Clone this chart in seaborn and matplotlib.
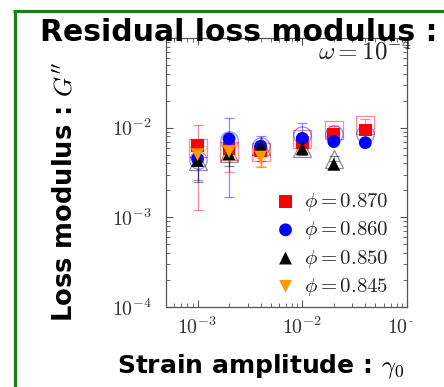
import numpy as np
import matplotlib
matplotlib.use("Agg")
import matplotlib.pyplot as plt
from matplotlib.lines import Line2D
from matplotlib.transforms import Bbox, TransformedBbox
import seaborn as sns

# Strain amplitudes probed
strain = [1e-3, 2e-3, 4e-3, 1e-2, 2e-2, 4e-2]

# phi = 0.870
g870 = [6.3e-3, 5.9e-3, 5.5e-3, 6.8e-3, 8.5e-3, 9.4e-3]
g870_mean = [6.0e-3, 5.5e-3, 5.3e-3, 7.5e-3, 9.3e-3, 1.06e-2]
g870_std = [4.8e-3, 2.3e-3, 1.7e-3, 1.0e-3, 1.2e-3, 2.0e-3]

# phi = 0.860
g860 = [4.5e-3, 7.5e-3, 6.2e-3, 7.6e-3, 7.0e-3, 6.8e-3]
g860_mean = [4.4e-3, 7.3e-3, 6.2e-3, 8.3e-3, 8.5e-3, 8.4e-3]
g860_std = [1.8e-3, 5.6e-3, 1.9e-3, 3.0e-3, 1.5e-3, 1.0e-3]

# phi = 0.850
g850 = [4.3e-3, 5.1e-3, 6.1e-3, 5.8e-3, 3.9e-3]
g850_mean = [4.3e-3, 5.2e-3, 6.3e-3, 6.0e-3, 4.5e-3]
g850_std = [1.8e-3, 1.5e-3, 0.8e-3, 1.0e-3, 0.3e-3]

# phi = 0.845
g845 = [5.0e-3, 5.4e-3, 4.7e-3]
g845_mean = [4.9e-3, 5.3e-3, 4.8e-3]
g845_std = [0.6e-3, 0.6e-3, 1.1e-3]

labels = [r"$\phi = 0.870$", r"$\phi = 0.860$", r"$\phi = 0.850$", r"$\phi = 0.845$"]
colors = ["#ff0000", "#0000ff", "#000000", "#ff9900"]
markers = ["s", "o", "^", "v"]

series = [
    (g870, g870_mean, g870_std),
    (g860, g860_mean, g860_std),
    (g850, g850_mean, g850_std),
    (g845, g845_mean, g845_std),
]

sns.set_style("ticks")
plt.rcParams["mathtext.fontset"] = "cm"
plt.rcParams["font.family"] = ["DejaVu Sans"]

W, H = 444, 387
fig = plt.figure(figsize=(W / 100, H / 100), dpi=100)
fig.patch.set_facecolor("white")

def fx(px):
    return px / W

def fy(py):
    return 1 - py / H

ax = fig.add_axes([fx(166), fy(307), fx(407) - fx(166), fy(38) - fy(307)])
ax.set_xscale("log")
ax.set_yscale("log")

for (g, gm, gs), lab, col, mk in zip(series, labels, colors, markers):
    n = len(g)
    xs = strain[:n]
    # averaged values: open markers with error bars
    ax.errorbar(xs, gm, yerr=gs, fmt=mk, mfc="none", mec=col, ms=12.5,
                mew=0.9, ecolor=col, elinewidth=0.9, capsize=3.5, capthick=0.9,
                alpha=0.45, zorder=2)
    # representative values: filled markers
    sns.scatterplot(x=xs, y=g, marker=mk, color=col, s=85, edgecolor="none",
                    linewidth=0, label=lab, ax=ax, zorder=3)

ax.set_xlim(5e-4, 1e-1)
ax.set_ylim(1e-4, 1e-1)
ax.set_xticks([1e-3, 1e-2, 1e-1])
ax.set_yticks([1e-4, 1e-3, 1e-2])
ax.set_xticklabels([r"$10^{-3}$", r"$10^{-2}$", r"$10^{-1}$"])
ax.set_yticklabels([r"$10^{-4}$", r"$10^{-3}$", r"$10^{-2}$"])
ax.tick_params(which="both", direction="in", top=True, right=True,
               color="#555555", labelsize=14.4, labelcolor="#333333")
ax.tick_params(which="major", length=5, width=0.8)
ax.tick_params(which="minor", length=3, width=0.6)
ax.tick_params(axis="y", pad=10)
ax.tick_params(axis="x", pad=7)
for sp in ax.spines.values():
    sp.set_color("#555555")
    sp.set_linewidth(0.9)
ax.set_xlabel("")
ax.set_ylabel("")

leg = ax.legend(loc="lower right", bbox_to_anchor=(0.985, -0.02), frameon=False,
                fontsize=15, handlelength=0.8, handletextpad=0.5,
                labelspacing=0.3, borderaxespad=0.3, markerscale=1.0)

# the image region ends just past the right spine
clip = TransformedBbox(Bbox([[0, 0], [fx(413), 1]]), fig.transFigure)
for lbl in ax.get_xticklabels():
    lbl.set_clip_box(clip)
    lbl.set_clip_on(True)

fig.text(fx(318), fy(59), r"$\omega = 10^{-4}$", fontsize=18, ha="left",
         va="baseline", color="#222222")

fig.text(fx(40), fy(41), "Residual loss modulus :", fontsize=21.5,
         fontweight="bold", ha="left", va="baseline", color="black")
fig.text(fx(117), fy(372), r"Strain amplitude : $\gamma_0$", fontsize=18,
         fontweight="bold", ha="left", va="baseline", color="black")
fig.text(fx(72), fy(322), r"Loss modulus : $G''$", fontsize=18.5,
         fontweight="bold", ha="left", va="baseline", rotation=90,
         rotation_mode="anchor", color="black")

# slide frame
green = "#1e7d1e"
fig.add_artist(Line2D([fx(14.5), fx(14.5)], [fy(10.5), 0], color=green,
                      lw=2.3, transform=fig.transFigure, solid_capstyle="butt"))
fig.add_artist(Line2D([fx(13), 1], [fy(10.5), fy(10.5)], color=green,
                      lw=2.3, transform=fig.transFigure, solid_capstyle="butt"))

fig.savefig("out.png", dpi=100)
